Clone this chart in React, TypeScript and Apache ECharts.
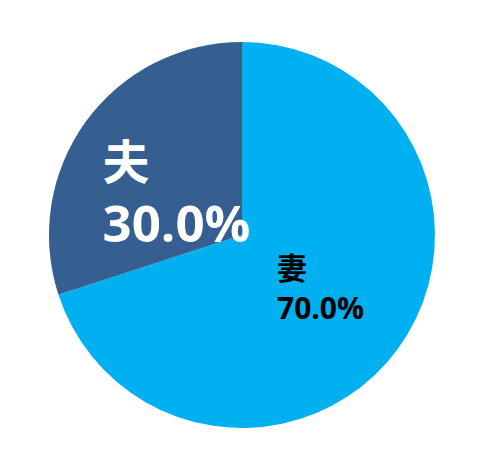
import React, { useEffect, useRef } from 'react';
import * as echarts from 'echarts';

const names = ['妻', '夫'];
const shares = [70, 30];
const colors = ['#00B0F0', '#355F91'];

const App: React.FC = () => {
  const chartRef = useRef<HTMLDivElement>(null);

  useEffect(() => {
    if (!chartRef.current) return;
    const chart = echarts.init(chartRef.current, null, { renderer: 'svg' });

    const labelStyles = [
      // 妻: smaller black text
      { color: '#000000', nameSize: 30, pctSize: 30, nameLh: 42, pctLh: 40, offset: [-2, -7] },
      // 夫: large white text
      { color: '#ffffff', nameSize: 47, pctSize: 51, nameLh: 64, pctLh: 62, offset: [15, 13] },
    ];

    const options = {
      animation: false,
      series: [
        {
          type: 'pie',
          center: [242, 235],
          radius: 193,
          startAngle: 90,
          clockwise: true,
          labelLine: { show: false },
          data: names.map((name, i) => {
            const s = labelStyles[i];
            return {
              name,
              value: shares[i],
              itemStyle: { color: colors[i] },
              label: {
                show: true,
                position: 'inside',
                offset: s.offset,
                formatter: (p: any) => `{n|${p.name}}\n{p|${p.percent.toFixed(1)}%}`,
                rich: {
                  n: {
                    color: s.color,
                    fontSize: s.nameSize,
                    fontWeight: 'bold',
                    fontFamily: '"Noto Sans CJK JP", sans-serif',
                    lineHeight: s.nameLh,
                    align: 'left',
                  },
                  p: {
                    color: s.color,
                    fontSize: s.pctSize,
                    fontWeight: 'bold',
                    fontFamily: '"Open Sans", sans-serif',
                    lineHeight: s.pctLh,
                    align: 'left',
                  },
                },
              },
            };
          }),
        },
      ],
    };

    chart.setOption(options);

    return () => {
      chart.dispose();
    };
  }, []);

  return (
    <div
      ref={chartRef}
      style={{
        position: 'fixed',
        left: 0,
        top: 0,
        width: '488px',
        height: '474px',
        background: '#ffffff',
      }}
    />
  );
};

export default App;
